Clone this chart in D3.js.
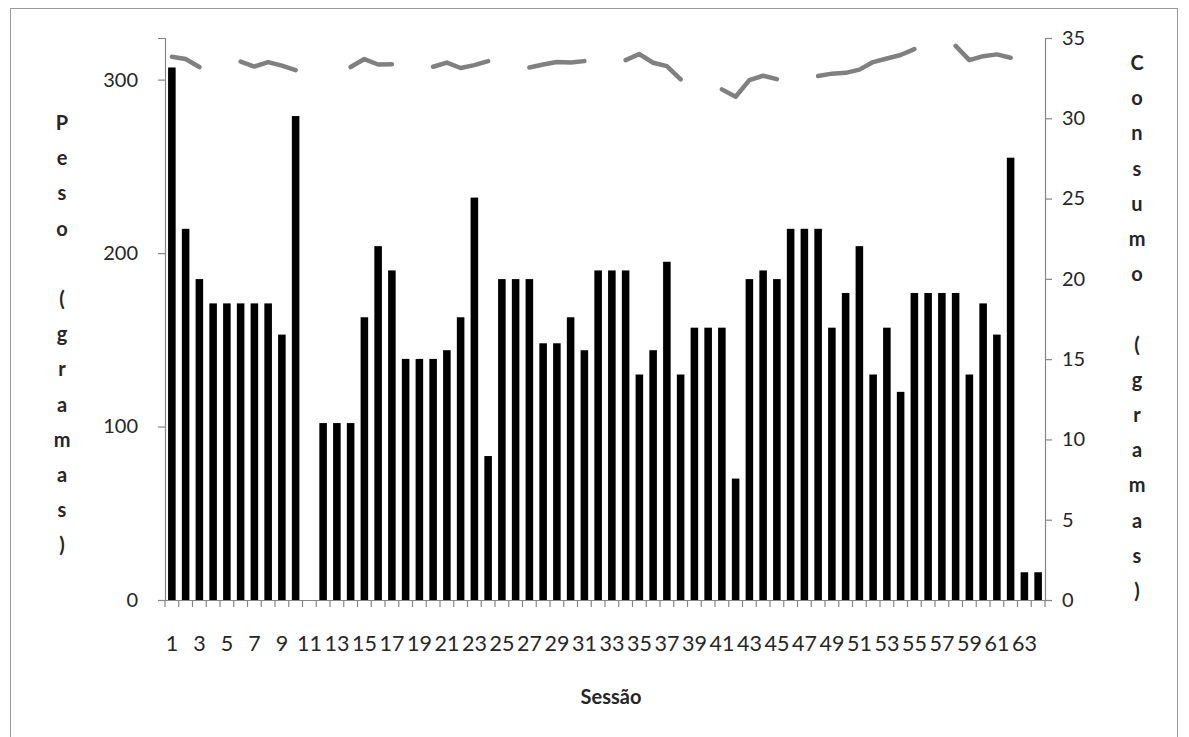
<!DOCTYPE html>
<html>
<head>
<meta charset="utf-8">
<script src="https://cdn.jsdelivr.net/npm/d3@7"></script>
<style>
  html, body { margin: 0; padding: 0; background: #fff; }
  svg { display: block; }
</style>
</head>
<body>
<svg id="chart" width="1189" height="737"></svg>
<script>
// ---- data ----
const sessions = [1,2,3,4,5,6,7,8,9,10,11,12,13,14,15,16,17,18,19,20,21,22,23,24,25,26,27,28,29,30,31,32,
  33,34,35,36,37,38,39,40,41,42,43,44,45,46,47,48,49,50,51,52,53,54,55,56,57,58,59,60,61,62,63,64];
const peso = [307,214,185,171,171,171,171,171,153,279,
  null,102,102,102,163,204,190,139,139,139,
  144,163,232,83,185,185,185,148,148,163,
  144,190,190,190,130,144,195,130,157,157,
  157,70,185,190,185,214,214,214,157,177,
  204,130,157,120,177,177,177,177,130,171,
  153,255,16,16];
const consumo = [33.83,33.69,33.19,null,null,33.53,33.22,33.5,33.28,33.0,
  null,null,null,33.19,33.69,33.35,33.37,null,null,33.21,
  33.47,33.13,33.31,33.56,null,null,33.16,33.35,33.5,33.47,
  33.56,null,null,33.62,34.0,33.46,33.25,32.42,null,null,
  31.8,31.34,32.38,32.65,32.44,null,null,32.63,32.78,32.83,
  33.03,33.5,33.72,33.94,34.31,null,null,34.51,33.62,33.87,
  33.98,33.77,null,null];
const pesoTicks = [0,100,200,300];
const consumoTicks = [0,5,10,15,20,25,30,35];
const xTickLabels = sessions.filter(d => d % 2 === 1);
const leftTitle = "Peso (gramas)";
const rightTitle = "Consumo (gramas)";
const xTitle = "Sessão";

// ---- layout ----
const svg = d3.select("#chart");
const plot = { left: 165, right: 1045, top: 38, bottom: 600 };
const font = "Lato, 'Open Sans', sans-serif";
const axisGray = "#868686";
const textColor = "#262626";

// outer frame
svg.append("rect").attr("x", 10.5).attr("y", 8.5).attr("width", 1167).attr("height", 740)
  .attr("fill", "none").attr("stroke", "#9a9a9a").attr("stroke-width", 1);

const x = d3.scaleBand().domain(sessions).range([plot.left, plot.right]).paddingInner(0.45).paddingOuter(0.225);
const xCat = d3.scaleBand().domain(sessions).range([plot.left, plot.right]);
const yL = d3.scaleLinear().domain([0, 324]).range([plot.bottom, plot.top]);
const yR = d3.scaleLinear().domain([0, 35]).range([plot.bottom, plot.top]);

// bars
svg.append("g").selectAll("rect")
  .data(sessions.map((s, i) => ({ s, v: peso[i] })).filter(d => d.v != null))
  .join("rect")
  .attr("x", d => x(d.s))
  .attr("width", x.bandwidth())
  .attr("y", d => yL(d.v))
  .attr("height", d => yL(0) - yL(d.v))
  .attr("fill", "#000");

// line
const line = d3.line()
  .defined(d => d.v != null)
  .x(d => xCat(d.s) + xCat.bandwidth() / 2)
  .y(d => yR(d.v));
svg.append("path")
  .datum(sessions.map((s, i) => ({ s, v: consumo[i] })))
  .attr("d", line)
  .attr("fill", "none")
  .attr("stroke", "#808080")
  .attr("stroke-width", 4.5)
  .attr("stroke-linejoin", "round")
  .attr("stroke-linecap", "round");

// left axis
const gL = svg.append("g").attr("transform", `translate(${plot.left},0)`)
  .call(d3.axisLeft(yL).tickValues(pesoTicks).tickSize(7).tickPadding(20));
// right axis
const gR = svg.append("g").attr("transform", `translate(${plot.right},0)`)
  .call(d3.axisRight(yR).tickValues(consumoTicks).tickSize(7).tickPadding(10));
// bottom axis: labels on odd sessions
const gB = svg.append("g").attr("transform", `translate(0,${plot.bottom})`)
  .call(d3.axisBottom(xCat).tickValues(xTickLabels).tickSize(0).tickPadding(36));

[gL, gR, gB].forEach(g => {
  g.select(".domain").attr("stroke", axisGray).attr("stroke-width", 1.2);
  g.selectAll(".tick line").attr("stroke", axisGray).attr("stroke-width", 1.2);
  g.selectAll("text").attr("font-family", font).attr("font-size", 20).attr("fill", textColor);
});
gB.selectAll("text").attr("font-size", 21.5);
gB.select(".domain").attr("d", `M${plot.left},0.5H${plot.right}`);

// boundary ticks on x axis
svg.append("g").selectAll("line")
  .data(sessions.concat([null]))
  .join("line")
  .attr("x1", (d, i) => plot.left + i * xCat.step())
  .attr("x2", (d, i) => plot.left + i * xCat.step())
  .attr("y1", plot.bottom)
  .attr("y2", plot.bottom + 7)
  .attr("stroke", axisGray)
  .attr("stroke-width", 1.2);

// stacked vertical titles
function stacked(text, cx, y0, step) {
  svg.append("g").selectAll("text")
    .data(Array.from(text))
    .join("text")
    .attr("x", cx)
    .attr("y", (d, i) => y0 + i * step)
    .attr("text-anchor", "middle")
    .attr("dominant-baseline", "central")
    .attr("font-family", font)
    .attr("font-weight", "bold")
    .attr("font-size", 20)
    .attr("fill", textColor)
    .text(d => d);
}
stacked(leftTitle, 62, 122, 35.2);
stacked(rightTitle, 1137, 62, 35.2);

svg.append("text")
  .attr("x", 611).attr("y", 704)
  .attr("text-anchor", "middle")
  .attr("font-family", font)
  .attr("font-weight", "bold")
  .attr("font-size", 20)
  .attr("fill", textColor)
  .text(xTitle);
</script>
</body>
</html>
